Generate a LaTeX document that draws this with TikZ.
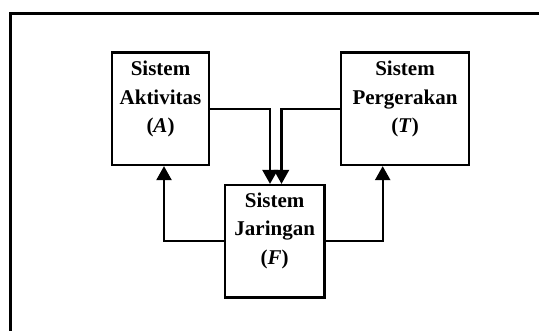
\documentclass[tikz,border=0pt]{standalone}
\usepackage{fontspec}
\setmainfont{Liberation Serif}
\usetikzlibrary{arrows.meta,calc}
\begin{document}
\begin{tikzpicture}[x=1pt,y=-1pt,
  box/.style={draw,line width=2.3pt,minimum width=97pt,minimum height=112.5pt,inner sep=0pt},
  lbl/.style={align=center,font=\fontsize{21}{28.5}\selectfont\bfseries,inner sep=0pt},
  arr/.style={line width=2.4pt,-{Triangle[width=15pt,length=14pt]}},
  frame/.style={line width=3pt}]
\useasboundingbox (0,0) rectangle (539,331);
\draw[frame] (10,331) -- (10,13.5) -- (539,13.5);
\node[box] (A) at (160.5,108.75) {};
\node[box,minimum width=128pt] (T) at (405,108.75) {};
\node[box,minimum width=99.5pt] (F) at (274.7,241.3) {};
\node[lbl] (At) at (160.5,99) {Sistem\\Aktivitas\\(\textit{A})};
\node[lbl] (Tt) at (405,99) {Sistem\\Pergerakan\\(\textit{T})};
\node[lbl] (Ft) at (274.7,230.5) {Sistem\\Jaringan\\(\textit{F})};
\draw[arr] (A.east) -| ($(F.north)+(-4.7,0)$);
\draw[arr] (T.west) -| ($(F.north)+(6.8,0)$);
\draw[arr] (F.west) -| ($(A.south)+(3.5,0)$);
\draw[arr] (F.east) -| ($(T.south)+(-22.3,0)$);
\end{tikzpicture}
\end{document}
